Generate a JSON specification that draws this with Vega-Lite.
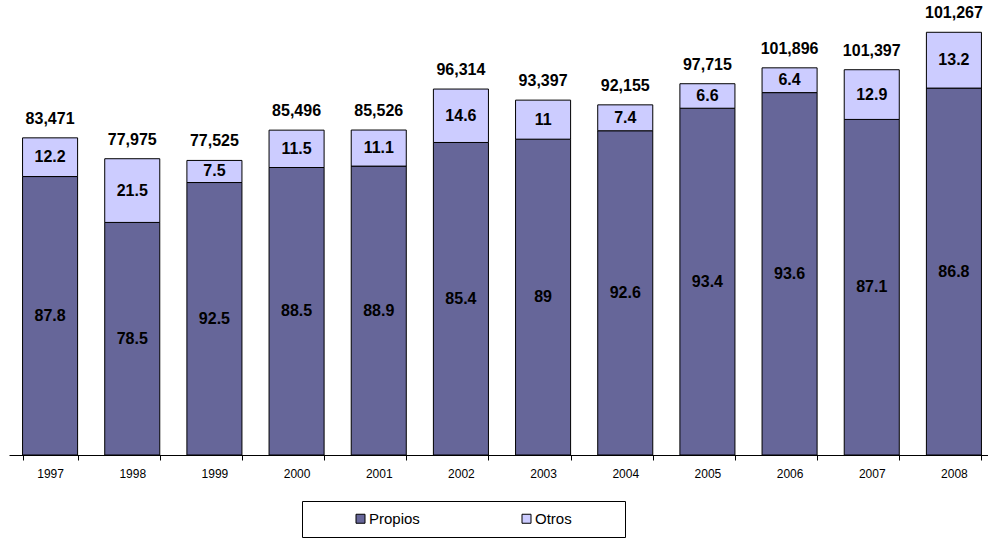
{
  "$schema": "https://vega.github.io/schema/vega-lite/v6.json",
  "width": 979,
  "height": 455,
  "autosize": {"type": "none"},
  "padding": {"left": 9, "top": 0, "right": 0, "bottom": 85},
  "background": "#ffffff",
  "config": {
    "view": {"stroke": null},
    "font": "Liberation Sans, Arial, sans-serif",
    "axis": {"grid": false}
  },
  "datasets": {
    "segmentos": [
      {"anio": "1997", "serie": "Propios", "orden": 1, "valor": 73287.5, "pct": "87.8"},
      {"anio": "1997", "serie": "Otros", "orden": 2, "valor": 10183.5, "pct": "12.2"},
      {"anio": "1998", "serie": "Propios", "orden": 1, "valor": 61210.4, "pct": "78.5"},
      {"anio": "1998", "serie": "Otros", "orden": 2, "valor": 16764.6, "pct": "21.5"},
      {"anio": "1999", "serie": "Propios", "orden": 1, "valor": 71710.6, "pct": "92.5"},
      {"anio": "1999", "serie": "Otros", "orden": 2, "valor": 5814.4, "pct": "7.5"},
      {"anio": "2000", "serie": "Propios", "orden": 1, "valor": 75664, "pct": "88.5"},
      {"anio": "2000", "serie": "Otros", "orden": 2, "valor": 9832, "pct": "11.5"},
      {"anio": "2001", "serie": "Propios", "orden": 1, "valor": 76032.6, "pct": "88.9"},
      {"anio": "2001", "serie": "Otros", "orden": 2, "valor": 9493.4, "pct": "11.1"},
      {"anio": "2002", "serie": "Propios", "orden": 1, "valor": 82252.2, "pct": "85.4"},
      {"anio": "2002", "serie": "Otros", "orden": 2, "valor": 14061.8, "pct": "14.6"},
      {"anio": "2003", "serie": "Propios", "orden": 1, "valor": 83123.3, "pct": "89"},
      {"anio": "2003", "serie": "Otros", "orden": 2, "valor": 10273.7, "pct": "11"},
      {"anio": "2004", "serie": "Propios", "orden": 1, "valor": 85335.5, "pct": "92.6"},
      {"anio": "2004", "serie": "Otros", "orden": 2, "valor": 6819.5, "pct": "7.4"},
      {"anio": "2005", "serie": "Propios", "orden": 1, "valor": 91265.8, "pct": "93.4"},
      {"anio": "2005", "serie": "Otros", "orden": 2, "valor": 6449.2, "pct": "6.6"},
      {"anio": "2006", "serie": "Propios", "orden": 1, "valor": 95374.7, "pct": "93.6"},
      {"anio": "2006", "serie": "Otros", "orden": 2, "valor": 6521.3, "pct": "6.4"},
      {"anio": "2007", "serie": "Propios", "orden": 1, "valor": 88316.8, "pct": "87.1"},
      {"anio": "2007", "serie": "Otros", "orden": 2, "valor": 13080.2, "pct": "12.9"},
      {"anio": "2008", "serie": "Propios", "orden": 1, "valor": 96565, "pct": "86.8"},
      {"anio": "2008", "serie": "Otros", "orden": 2, "valor": 14685, "pct": "13.2"}
    ],
    "totales": [
      {"anio": "1997", "altura": 83471, "etiqueta": "83,471"},
      {"anio": "1998", "altura": 77975, "etiqueta": "77,975"},
      {"anio": "1999", "altura": 77525, "etiqueta": "77,525"},
      {"anio": "2000", "altura": 85496, "etiqueta": "85,496"},
      {"anio": "2001", "altura": 85526, "etiqueta": "85,526"},
      {"anio": "2002", "altura": 96314, "etiqueta": "96,314"},
      {"anio": "2003", "altura": 93397, "etiqueta": "93,397"},
      {"anio": "2004", "altura": 92155, "etiqueta": "92,155"},
      {"anio": "2005", "altura": 97715, "etiqueta": "97,715"},
      {"anio": "2006", "altura": 101896, "etiqueta": "101,896"},
      {"anio": "2007", "altura": 101397, "etiqueta": "101,397"},
      {"anio": "2008", "altura": 111250, "etiqueta": "101,267"}
    ]
  },
  "encoding": {
    "x": {
      "field": "anio",
      "type": "ordinal",
      "scale": {"range": [0, 986], "paddingInner": 0.33, "paddingOuter": 0.165},
      "axis": {
        "title": null,
        "labelAngle": 0,
        "tickBand": "extent",
        "tickSize": 5,
        "tickColor": "#000000",
        "domainColor": "#000000",
        "labelColor": "#000000",
        "labelFontSize": 12,
        "labelPadding": 8,
        "labelFont": "Liberation Sans, Arial, sans-serif"
      }
    }
  },
  "layer": [
    {
      "data": {"name": "segmentos"},
      "mark": {"type": "bar", "stroke": "#000000", "strokeWidth": 1},
      "encoding": {
        "y": {
          "field": "valor",
          "type": "quantitative",
          "stack": "zero",
          "scale": {"domain": [0, 119750], "nice": false},
          "axis": null
        },
        "order": {"field": "orden", "type": "quantitative"},
        "color": {
          "field": "serie",
          "type": "nominal",
          "scale": {"domain": ["Propios", "Otros"], "range": ["#666699", "#CCCCFF"]},
          "legend": {
            "title": "\u2003",
            "titleOrient": "right",
            "titlePadding": 43,
            "titleFontSize": 15,
            "orient": "none",
            "legendX": 293,
            "legendY": 501,
            "direction": "horizontal",
            "padding": 10,
            "strokeColor": "#000000",
            "fillColor": "#ffffff",
            "symbolType": "square",
            "symbolSize": 81,
            "symbolStrokeColor": "#000000",
            "symbolStrokeWidth": 1,
            "symbolOffset": 41,
            "labelOffset": 1,
            "labelFontSize": 15,
            "labelColor": "#000000",
            "labelFont": "Liberation Sans, Arial, sans-serif",
            "columnPadding": 58
          }
        }
      }
    },
    {
      "data": {"name": "segmentos"},
      "mark": {"type": "text", "fontSize": 16, "fontWeight": "bold", "color": "#000000", "baseline": "middle"},
      "encoding": {
        "y": {"field": "valor", "type": "quantitative", "stack": "zero", "bandPosition": 0.5},
        "order": {"field": "orden", "type": "quantitative"},
        "text": {"field": "pct", "type": "nominal"}
      }
    },
    {
      "data": {"name": "totales"},
      "mark": {"type": "text", "fontSize": 16, "fontWeight": "bold", "color": "#000000", "baseline": "middle", "dy": -19},
      "encoding": {
        "y": {"field": "altura", "type": "quantitative"},
        "text": {"field": "etiqueta", "type": "nominal"}
      }
    }
  ]
}
